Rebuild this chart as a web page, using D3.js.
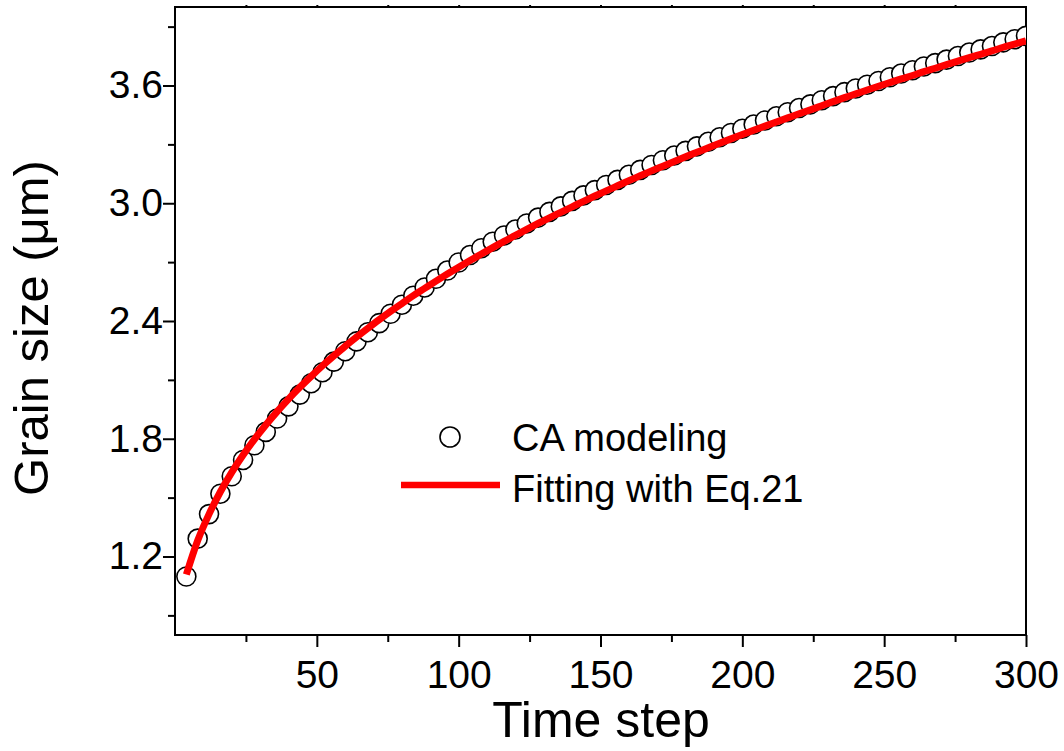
<!DOCTYPE html>
<html>
<head>
<meta charset="utf-8">
<script src="https://cdn.jsdelivr.net/npm/d3@7"></script>
<style>
  body { margin: 0; background: #fff; }
  svg { display: block; }
  text { font-family: "Liberation Sans", Arial, sans-serif; fill: #000; }
</style>
</head>
<body>
<svg id="chart" width="1064" height="751"></svg>
<script>
// Simulation time steps
const timeSteps = [
  4, 8, 12, 16, 20, 24, 28, 32, 36, 40, 44, 48, 52, 56, 60, 64, 68, 72, 76, 80,
  84, 88, 92, 96, 100, 104, 108, 112, 116, 120, 124, 128, 132, 136, 140, 144, 148, 152, 156, 160,
  164, 168, 172, 176, 180, 184, 188, 192, 196, 200, 204, 208, 212, 216, 220, 224, 228, 232, 236, 240,
  244, 248, 252, 256, 260, 264, 268, 272, 276, 280, 284, 288, 292, 296, 300
];

// Mean grain size from the CA model (µm)
const caModeling = [
  1.098, 1.291, 1.416, 1.520, 1.609, 1.692, 1.767, 1.835, 1.903, 1.965,
  2.025, 2.083, 2.139, 2.193, 2.246, 2.296, 2.343, 2.389, 2.437, 2.483,
  2.529, 2.571, 2.615, 2.657, 2.698, 2.736, 2.771, 2.804, 2.836, 2.866,
  2.897, 2.927, 2.956, 2.984, 3.012, 3.040, 3.067, 3.093, 3.119, 3.145,
  3.170, 3.195, 3.219, 3.243, 3.267, 3.290, 3.313, 3.336, 3.358, 3.380,
  3.401, 3.422, 3.443, 3.464, 3.485, 3.504, 3.525, 3.546, 3.566, 3.585,
  3.604, 3.623, 3.642, 3.661, 3.678, 3.697, 3.714, 3.732, 3.750, 3.768,
  3.784, 3.801, 3.820, 3.836, 3.853
];

// Fitted curve (Eq.21) evaluated at the same time steps (µm)
const fitEq21 = [
  1.108, 1.281, 1.416, 1.530, 1.629, 1.717, 1.797, 1.870, 1.938, 2.002,
  2.062, 2.118, 2.172, 2.223, 2.271, 2.318, 2.363, 2.407, 2.449, 2.489,
  2.529, 2.566, 2.603, 2.639, 2.674, 2.708, 2.741, 2.774, 2.806, 2.836,
  2.867, 2.897, 2.926, 2.954, 2.982, 3.010, 3.037, 3.063, 3.089, 3.115,
  3.140, 3.165, 3.189, 3.213, 3.237, 3.260, 3.283, 3.306, 3.328, 3.350,
  3.372, 3.393, 3.414, 3.435, 3.456, 3.476, 3.497, 3.518, 3.538, 3.557,
  3.577, 3.596, 3.615, 3.634, 3.651, 3.671, 3.688, 3.706, 3.724, 3.742,
  3.759, 3.776, 3.795, 3.811, 3.828
];

const xMajorTicks = [50, 100, 150, 200, 250, 300];
const xMinorTicks = [25, 75, 125, 175, 225, 275];
const yMajorTicks = [1.2, 1.8, 2.4, 3.0, 3.6];
const yMinorTicks = [0.9, 1.5, 2.1, 2.7, 3.3, 3.9];

const seriesNames = ["CA modeling", "Fitting with Eq.21"];
const xTitle = "Time step";
const yTitle = "Grain size (\u03BCm)";

const svg = d3.select("#chart");
const plot = { left: 175, right: 1026, top: 7, bottom: 635 };

const x = d3.scaleLinear().domain([0, 300]).range([plot.left, plot.right]);
const y = d3.scaleLinear().domain([0.8, 4.0]).range([plot.bottom, plot.top]);

svg.append("defs").append("clipPath").attr("id", "plotClip")
  .append("rect")
  .attr("x", plot.left).attr("y", plot.top)
  .attr("width", plot.right - plot.left).attr("height", plot.bottom - plot.top);

function styleAxis(g, fontSize) {
  g.select(".domain").remove();
  g.selectAll(".tick line").attr("stroke", "#000").attr("stroke-width", 2);
  g.selectAll(".tick text").style("font-size", fontSize + "px")
    .style("font-family", '"Liberation Sans", Arial, sans-serif').attr("fill", "#000");
}

// Bottom axis: labelled major ticks and short minor ticks
svg.append("g").attr("transform", `translate(0,${plot.bottom})`)
  .call(d3.axisBottom(x).tickValues(xMajorTicks).tickSize(12).tickPadding(13).tickFormat(d3.format("d")))
  .call(g => styleAxis(g, 39));
svg.append("g").attr("transform", `translate(0,${plot.bottom})`)
  .call(d3.axisBottom(x).tickValues(xMinorTicks).tickSize(7).tickFormat(""))
  .call(g => styleAxis(g, 39));

// Left axis
svg.append("g").attr("transform", `translate(${plot.left},0)`)
  .call(d3.axisLeft(y).tickValues(yMajorTicks).tickSize(12).tickPadding(0).tickFormat(d3.format(".1f")))
  .call(g => styleAxis(g, 39));
svg.append("g").attr("transform", `translate(${plot.left},0)`)
  .call(d3.axisLeft(y).tickValues(yMinorTicks).tickSize(7).tickFormat(""))
  .call(g => styleAxis(g, 39));

// Tiny marks along the top edge
svg.append("g").attr("transform", `translate(0,${plot.top})`)
  .call(d3.axisTop(x).tickValues(xMajorTicks.concat(xMinorTicks).filter(v => v < 300)).tickSize(2).tickFormat(""))
  .call(g => styleAxis(g, 39));

// Plot frame
svg.append("rect")
  .attr("x", plot.left).attr("y", plot.top)
  .attr("width", plot.right - plot.left).attr("height", plot.bottom - plot.top)
  .attr("fill", "none").attr("stroke", "#000").attr("stroke-width", 2);

const data = timeSteps.map((t, i) => ({ t, ca: caModeling[i], fit: fitEq21[i] }));

const marks = svg.append("g").attr("clip-path", "url(#plotClip)");

// CA model points
marks.selectAll("circle.ca").data(data).join("circle")
  .attr("class", "ca")
  .attr("cx", d => x(d.t)).attr("cy", d => y(d.ca)).attr("r", 9.5)
  .attr("fill", "#fff").attr("stroke", "#000").attr("stroke-width", 1.6);

// Fitted curve
marks.append("path").datum(data)
  .attr("fill", "none").attr("stroke", "#ff0000").attr("stroke-width", 7)
  .attr("d", d3.line().x(d => x(d.t)).y(d => y(d.fit)).curve(d3.curveMonotoneX));

// Legend
const legend = svg.append("g");
legend.append("circle").attr("cx", 450).attr("cy", 437).attr("r", 10)
  .attr("fill", "#fff").attr("stroke", "#000").attr("stroke-width", 1.6);
legend.append("text").attr("x", 512).attr("y", 451).style("font-size", "38px").text(seriesNames[0]);
legend.append("line").attr("x1", 401).attr("x2", 500).attr("y1", 485).attr("y2", 485)
  .attr("stroke", "#ff0000").attr("stroke-width", 6.5);
legend.append("text").attr("x", 512).attr("y", 502).style("font-size", "38px").text(seriesNames[1]);

// Axis titles
svg.append("text").attr("x", 601).attr("y", 737).attr("text-anchor", "middle")
  .style("font-size", "50px").text(xTitle);
svg.append("text").attr("transform", "translate(48,328) rotate(-90)").attr("text-anchor", "middle")
  .style("font-size", "49px").text(yTitle);
</script>
</body>
</html>
